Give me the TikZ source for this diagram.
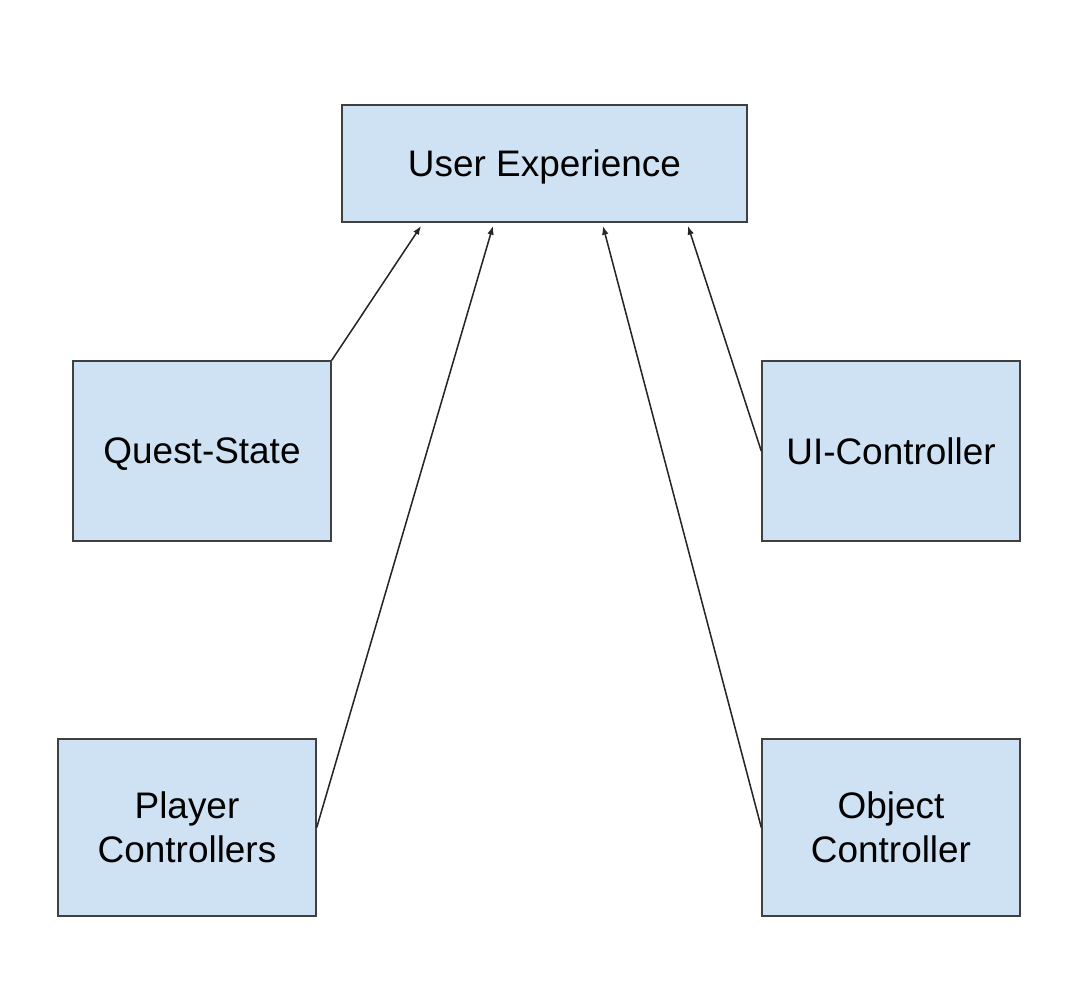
\documentclass[tikz,border=0pt]{standalone}
\usepackage{fontspec}
\setmainfont{Liberation Sans}
\usetikzlibrary{arrows.meta}
\begin{document}
\begin{tikzpicture}[x=0.75pt,y=-0.75pt,
  box/.style={draw=black!75, line width=1.1pt, fill=boxblue, inner sep=0pt, align=center,
    font=\fontsize{27.7pt}{33pt}\selectfont},
  one/.style={text depth=0pt},
  conn/.style={line width=1.15pt, black!85, -{Latex[length=6.5pt,width=5pt]}}]
\definecolor{boxblue}{HTML}{CFE2F3}
\useasboundingbox (0,0) rectangle (1089,993);
\node[box, one, minimum width=303.75pt, minimum height=87.75pt] (ux) at (544.5,163.5) {User Experience};
\node[box, one, minimum width=193.5pt, minimum height=135pt] (qs) at (202,451) {Quest-State};
\node[box, one, minimum width=193.5pt, minimum height=135pt] (ui) at (891,451) {UI-Controller};
\node[box, minimum width=193.5pt, minimum height=132.75pt] (pc) at (187,827.5) {\vphantom{Py}Player\\Controllers};
\node[box, minimum width=193.5pt, minimum height=132.75pt] (oc) at (891,827.5) {Object\\Controller};
\coordinate (t1) at (421,226);
\coordinate (t2) at (493,226);
\coordinate (t3) at (603,226);
\coordinate (t4) at (688,226);
\draw[conn] (qs.north east) -- (t1);
\draw[conn] (pc.east) -- (t2);
\draw[conn] (oc.west) -- (t3);
\draw[conn] (ui.west) -- (t4);
\end{tikzpicture}
\end{document}
